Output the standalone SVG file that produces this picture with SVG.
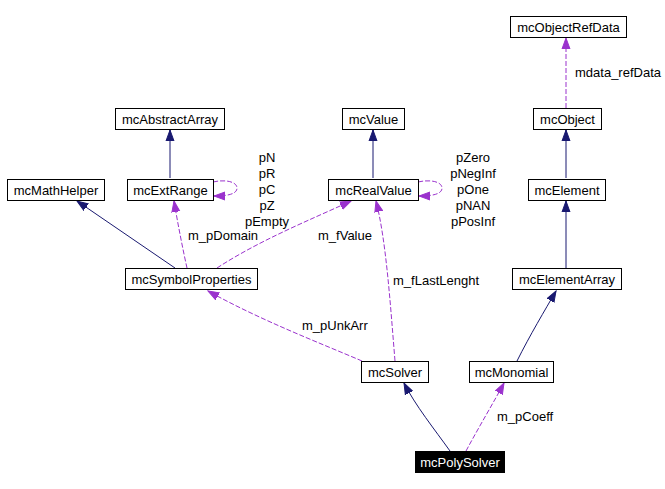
<svg xmlns="http://www.w3.org/2000/svg" width="665" height="489" viewBox="0 0 665 489">
<style>
text{font-family:"Liberation Sans",Arial,sans-serif;font-size:13px;fill:#000}
.n rect{fill:#fff;stroke:#000;stroke-width:1}
.n text{text-anchor:middle}
.inh{fill:none;stroke:#191970;stroke-width:1}
.use{fill:none;stroke:#9a32cd;stroke-width:1;stroke-dasharray:5,2}
.lbl{text-anchor:start}
.mid{text-anchor:middle}
</style>
<defs>
<marker id="ai" markerUnits="userSpaceOnUse" markerWidth="12" markerHeight="10" refX="11" refY="4.5" orient="auto" viewBox="0 0 12 9"><path d="M0,0.5 L11,4.5 L0,8.5 Z" fill="#191970" stroke="#191970"/></marker>
<marker id="au" markerUnits="userSpaceOnUse" markerWidth="12" markerHeight="10" refX="11" refY="4.5" orient="auto" viewBox="0 0 12 9"><path d="M0,0.5 L11,4.5 L0,8.5 Z" fill="#9a32cd" stroke="#9a32cd"/></marker>
</defs>
<rect width="665" height="489" fill="#fff"/>
<g id="edges">
<path class="use" d="M566,108 L566,38" marker-end="url(#au)"/>
<path class="inh" d="M566,178 L566,130" marker-end="url(#ai)"/>
<path class="inh" d="M566,268 L566,201" marker-end="url(#ai)"/>
<path class="inh" d="M517,361 C530,335 545,310 556,291" marker-end="url(#ai)"/>
<path class="inh" d="M450,451 C435,430 415,405 404,383" marker-end="url(#ai)"/>
<path class="use" d="M466,451 C480,425 495,400 504,383" marker-end="url(#au)"/>
<path class="use" d="M362,361 C320,343 260,320 208,291" marker-end="url(#au)"/>
<path class="use" d="M395,361 C390,300 386,240 376,201" marker-end="url(#au)"/>
<path class="use" d="M217,268 C260,240 310,220 351,201" marker-end="url(#au)"/>
<path class="use" d="M187,268 C183,250 178,225 174,201" marker-end="url(#au)"/>
<path class="inh" d="M175,268 L77,201" marker-end="url(#ai)"/>
<path class="inh" d="M170,178 L170,130" marker-end="url(#ai)"/>
<path class="inh" d="M373,178 L373,130" marker-end="url(#ai)"/>
<path class="use" d="M213,182 C226,179 237,182 237,188 C237,194 228,196 214,196" marker-end="url(#au)"/>
<path class="use" d="M418,182 C431,179 442,182 442,188 C442,194 433,196 419,196" marker-end="url(#au)"/>
<text class="lbl" x="575" y="77">mdata_refData</text>
<text class="lbl" x="188" y="240">m_pDomain</text>
<text class="lbl" x="318" y="240">m_fValue</text>
<text class="lbl" x="393" y="285">m_fLastLenght</text>
<text class="lbl" x="302" y="330">m_pUnkArr</text>
<text class="lbl" x="497" y="421">m_pCoeff</text>
<text class="mid" x="267" y="162">pN</text>
<text class="mid" x="267" y="178">pR</text>
<text class="mid" x="267" y="194">pC</text>
<text class="mid" x="267" y="210">pZ</text>
<text class="mid" x="267" y="226">pEmpty</text>
<text class="mid" x="473" y="162">pZero</text>
<text class="mid" x="473" y="178">pNegInf</text>
<text class="mid" x="473" y="194">pOne</text>
<text class="mid" x="473" y="210">pNAN</text>
<text class="mid" x="473" y="226">pPosInf</text>
</g>
<g id="mcObjectRefData" class="n"><rect x="510.5" y="16.5" width="116" height="21"/><text x="568.5" y="31.5">mcObjectRefData</text></g>
<g id="mcObject" class="n"><rect x="533.5" y="108.5" width="68" height="21"/><text x="567.5" y="123.5">mcObject</text></g>
<g id="mcElement" class="n"><rect x="528.5" y="179.5" width="77" height="21"/><text x="567" y="194.5">mcElement</text></g>
<g id="mcElementArray" class="n"><rect x="512.5" y="268.5" width="109" height="21"/><text x="567" y="283.5">mcElementArray</text></g>
<g id="mcMonomial" class="n"><rect x="469.5" y="361.5" width="84" height="21"/><text x="511.5" y="376.5">mcMonomial</text></g>
<g id="mcSolver" class="n"><rect x="361.5" y="361.5" width="67" height="21"/><text x="395" y="376.5">mcSolver</text></g>
<g id="mcPolySolver"><rect x="415.5" y="451.5" width="89" height="21" fill="#000" stroke="#000"/><text x="460" y="466.5" text-anchor="middle" style="fill:#fff">mcPolySolver</text></g>
<g id="mcSymbolProperties" class="n"><rect x="125.5" y="268.5" width="132" height="21"/><text x="191.5" y="283.5">mcSymbolProperties</text></g>
<g id="mcMathHelper" class="n"><rect x="7.5" y="179.5" width="97" height="21"/><text x="56" y="194.5">mcMathHelper</text></g>
<g id="mcExtRange" class="n"><rect x="127.5" y="179.5" width="86" height="21"/><text x="170.5" y="194.5">mcExtRange</text></g>
<g id="mcAbstractArray" class="n"><rect x="115.5" y="108.5" width="109" height="21"/><text x="170" y="123.5">mcAbstractArray</text></g>
<g id="mcValue" class="n"><rect x="342.5" y="108.5" width="62" height="21"/><text x="373.5" y="123.5">mcValue</text></g>
<g id="mcRealValue" class="n"><rect x="328.5" y="179.5" width="90" height="21"/><text x="373.5" y="194.5">mcRealValue</text></g>
</svg>
